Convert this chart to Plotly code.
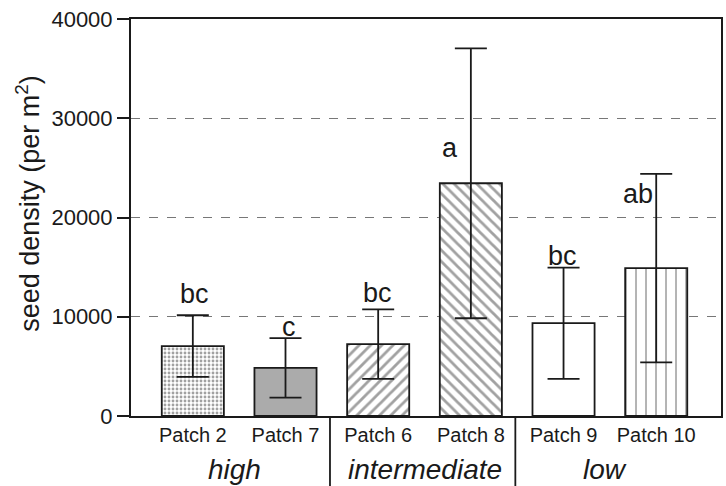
import plotly.graph_objects as go

# ---- data ----
patches = ["Patch 2", "Patch 7", "Patch 6", "Patch 8", "Patch 9", "Patch 10"]
means = [7050, 4850, 7250, 23450, 9350, 14900]
errors = [3100, 3000, 3500, 13600, 5600, 9500]
letters = ["bc", "c", "bc", "a", "bc", "ab"]
groups = ["high", "intermediate", "low"]
ytick_vals = [0, 10000, 20000, 30000, 40000]
ytick_text = ["0", "10000", "20000", "30000", "40000"]
ytitle = "seed density (per m<sup>2</sup>)"

# ---- styling / placement (not data) ----
xpos = list(range(len(patches)))
letter_x = [0.02, 1.04, 1.99, 2.78, 3.99, 4.80]
letter_y = [12300, 9000, 12400, 27000, 16100, 22400]
group_x = [0.45, 2.5, 4.45]
sep_x = [1.48, 3.48]

shapes_ = [".", "", "/", "\\", "", "|"]
psize = [4, 3, 8, 8, 8, 10]
psolid = [0.4, 0.2, 0.35, 0.35, 0.2, 0.16]
fillc = ["white", "#ababab", "white", "white", "white", "white"]
fgc = ["#111111", "#9c9c9c", "#000000", "#000000", "#000000", "#000000"]

FONT = "Liberation Sans, Arial, sans-serif"

fig = go.Figure()
fig.add_trace(go.Bar(
    x=xpos, y=means, width=0.67,
    marker=dict(color=fillc, line=dict(color="#1a1a1a", width=1.8),
                pattern=dict(shape=shapes_, size=psize, solidity=psolid,
                             fgcolor=fgc, bgcolor=fillc, fillmode="overlay")),
    error_y=dict(type="data", array=errors, visible=True, color="#1a1a1a",
                 thickness=1.8, width=16),
    showlegend=False,
))

annotations = []
for lx, ly, t in zip(letter_x, letter_y, letters):
    annotations.append(dict(x=lx, y=ly, text=t, showarrow=False, xref="x", yref="y",
                            font=dict(family=FONT, size=27, color="#1a1a1a")))
for gx, g in zip(group_x, groups):
    annotations.append(dict(x=gx, y=-0.135, text="<i>" + g + "</i>", showarrow=False,
                            xref="x", yref="paper", yanchor="middle",
                            font=dict(family=FONT, size=28, color="#1a1a1a")))
annotations.append(dict(x=-0.176, y=0.535, xref="paper", yref="paper", text=ytitle,
                        textangle=-90, showarrow=False, xanchor="center", yanchor="middle",
                        font=dict(family=FONT, size=27, color="#1a1a1a")))

shapes = []
for sx in sep_x:
    shapes.append(dict(type="line", xref="x", yref="paper", x0=sx, x1=sx, y0=0, y1=-0.18,
                       line=dict(color="#1a1a1a", width=1.8)))

fig.update_layout(
    width=726, height=486,
    margin=dict(l=131, r=3, t=19, b=70),
    paper_bgcolor="white", plot_bgcolor="white",
    font=dict(family=FONT, color="#1a1a1a"),
    annotations=annotations,
    shapes=shapes,
    xaxis=dict(range=[-0.667, 5.699], tickvals=xpos, ticktext=patches,
               tickfont=dict(size=20), showline=True, mirror=True,
               linecolor="#1a1a1a", linewidth=2, ticks="", showgrid=False,
               zeroline=False),
    yaxis=dict(range=[0, 40000], tickvals=ytick_vals, ticktext=ytick_text,
               tickfont=dict(size=22), ticks="outside", ticklen=12, tickwidth=1.5,
               tickcolor="#1a1a1a", showline=True, mirror=True, linecolor="#1a1a1a",
               linewidth=2, showgrid=True, gridcolor="#777777", griddash="dash",
               gridwidth=1.2, zeroline=False),
)

fig.write_html("out.html")
